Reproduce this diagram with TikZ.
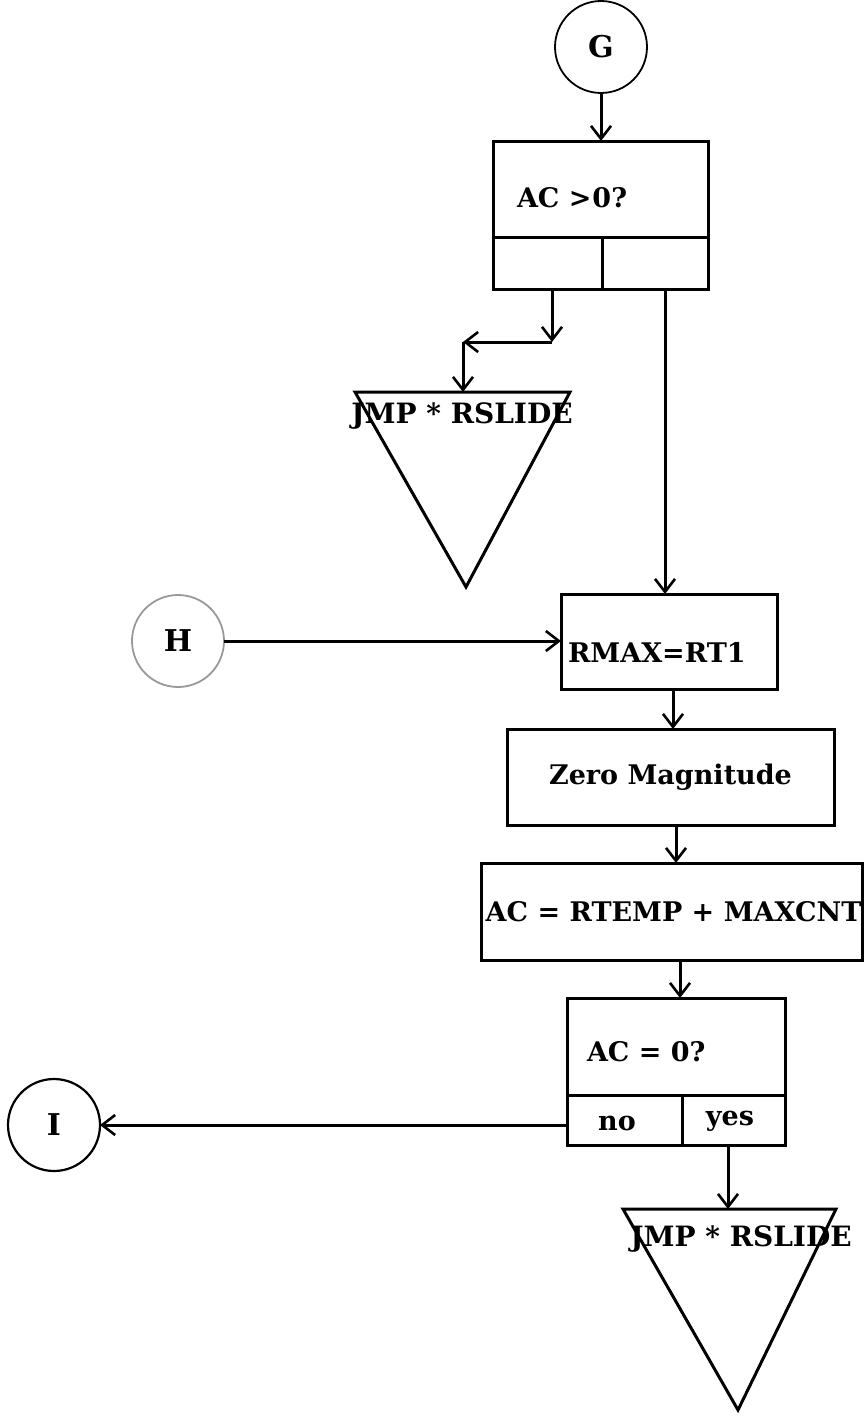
\documentclass[tikz,border=0pt]{standalone}
\usepackage{fontspec}
\setmainfont{DejaVu Serif}
\usetikzlibrary{arrows.meta,calc}
\begin{document}
\begin{tikzpicture}[x=1pt,y=-1pt,line width=3pt,
  every node/.style={font=\fontsize{27}{32}\selectfont\bfseries,inner sep=0pt,outer sep=0pt},
  conn/.style={circle,draw,minimum size=92pt,font=\fontsize{30}{34}\selectfont\bfseries},
  box/.style={draw,rectangle,anchor=north west},
  arr/.style={-{Straight Barb[length=13pt,width=20pt,line width=2.6pt]}}]
\useasboundingbox (0,0) rectangle (864,1418);

% connectors G, H, I
\node[conn,line width=1.8pt] (G) at (601,47) {G};
\node[conn,draw=black!40,line width=1.8pt] (H) at (178,641) {H};
\node[conn,line width=2.2pt] (I) at (54,1125) {I};

% first decision
\node[box,minimum width=215pt,minimum height=148pt] (d1) at (493,141) {};
\node[anchor=west] (t1) at (517,198) {AC >\kern1pt0?};
\draw ($(d1.north west)+(0,96)$) -- ($(d1.north east)+(0,96)$);
\draw ($(d1.south west)+(109,0)$) -- ($(d1.north west)+(109,96)$);

% triangle 1
\coordinate (ta) at (355,392);
\coordinate (tb) at (570,392);
\coordinate (tc) at (466,587);
\draw (ta) -- (tb) -- (tc) -- cycle;
\node[font=\fontsize{28}{32}\selectfont\bfseries] (j1) at (462,416) {JMP * RSLIDE};

% process boxes
\node[box,minimum width=216pt,minimum height=95pt] (b1) at (561,594) {};
\node[anchor=west] (t2) at (568,652) {RMAX=RT1};
\node[box,minimum width=327pt,minimum height=96pt] (b2) at (507,729) {};
\node (t3) at (b2.center) {Zero Magnitude};
\node[box,minimum width=381pt,minimum height=97pt] (b3) at (481,863) {};
\node (t4) at ($(b3.center)+(2,0)$) {AC = RTEMP + MAXCNT};

% second decision
\node[box,minimum width=218pt,minimum height=147pt] (d2) at (567,998) {};
\node[anchor=west] (t5) at (587,1052) {AC = 0?};
\draw ($(d2.north west)+(0,97)$) -- ($(d2.north east)+(0,97)$);
\draw ($(d2.south west)+(115,0)$) -- ($(d2.north west)+(115,97)$);
\node (no) at (617,1123) {no};
\node (yes) at (730,1121) {yes};

% triangle 2
\coordinate (ua) at (623,1209);
\coordinate (ub) at (836,1209);
\coordinate (uc) at (738,1410);
\draw (ua) -- (ub) -- (uc) -- cycle;
\node[font=\fontsize{28}{32}\selectfont\bfseries] (j2) at (741,1239) {JMP * RSLIDE};

% connectors
\draw[arr] (G.south) -- (G.south |- d1.north);
\coordinate (c0) at ($(d1.south west)+(59,0)$);
\coordinate (c1) at ($(c0)+(0,53)$);
\coordinate (c2) at (463,342);
\draw[arr] (c0) -- (c1);
\draw[arr] (c1) -- (c2);
\draw[arr] (c2) -- (c2 |- ta);
\coordinate (r0) at ($(d1.south west)+(172,0)$);
\draw[arr] (r0) -- (r0 |- b1.north);
\draw[arr] (H.east) -- (H.east -| b1.west);
\coordinate (p1) at ($(b1.south west)+(112,0)$);
\draw[arr] (p1) -- (p1 |- b2.north);
\coordinate (p2) at ($(b2.south west)+(169,0)$);
\draw[arr] (p2) -- (p2 |- b3.north);
\coordinate (p3) at ($(b3.south west)+(199,0)$);
\draw[arr] (p3) -- (p3 |- d2.north);
\draw[arr] (I.east -| d2.west) -- (I.east);
\coordinate (p4) at ($(d2.south west)+(161,0)$);
\draw[arr] (p4) -- (p4 |- ua);
\end{tikzpicture}
\end{document}
